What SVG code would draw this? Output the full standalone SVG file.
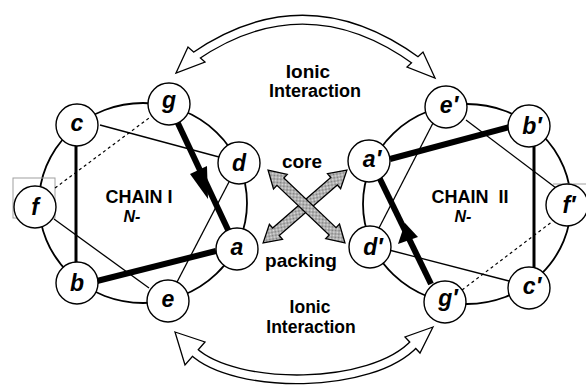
<svg xmlns="http://www.w3.org/2000/svg" width="586" height="387" viewBox="0 0 586 387">
  <defs>
    <pattern id="stipple" width="2" height="2" patternUnits="userSpaceOnUse">
      <rect width="2" height="2" fill="#e4e4e4"/>
      <rect width="1" height="1" fill="#7a7a7a"/>
      <rect x="1" y="1" width="1" height="1" fill="#7a7a7a"/>
    </pattern>
    <style>
      .ring { fill: none; stroke: #000; stroke-width: 1.8; }
      .node circle { fill: #fff; stroke: #000; stroke-width: 1.4; }
      .lbl { font-family: "Liberation Sans", Arial, "DejaVu Sans", sans-serif; font-weight: bold; font-style: italic; font-size: 23px; text-anchor: middle; fill: #000; }
      .thin { stroke: #000; stroke-width: 1.3; fill: none; }
      .thick { stroke: #000; stroke-width: 6; fill: none; }
      .mid { stroke: #000; stroke-width: 3; fill: none; }
      .dash { stroke: #000; stroke-width: 1.2; stroke-dasharray: 3 3; fill: none; }
      .head { fill: #000; stroke: none; }
      .title { font-family: "Liberation Sans", Arial, sans-serif; font-weight: bold; font-size: 18px; text-anchor: middle; fill: #000; }
      .nterm { font-family: "Liberation Sans", Arial, sans-serif; font-weight: bold; font-style: italic; font-size: 16px; text-anchor: middle; fill: #000; }
      .caption { font-family: "Liberation Sans", Arial, sans-serif; font-weight: bold; font-size: 19px; text-anchor: middle; fill: #000; }
      .arcOut { fill: none; stroke: #000; stroke-width: 10; }
      .arcIn { fill: none; stroke: #fff; stroke-width: 7.4; }
      .hollow { fill: #fff; stroke: #000; stroke-width: 1.3; stroke-linejoin: miter; }
      .fat { fill: url(#stipple); stroke: #000; stroke-width: 1.3; stroke-linejoin: miter; }
    </style>
  </defs>

  <rect width="586" height="387" fill="#fff"/>

  <!-- helix wheel rings -->
  <ellipse class="ring" cx="143" cy="203" rx="104" ry="100"/>
  <ellipse class="ring" cx="467" cy="204" rx="104" ry="100"/>

  <!-- faint frame marks around f and f' -->
  <rect x="13" y="178" width="42" height="40" fill="none" stroke="#a0a0a0" stroke-width="1"/>
  <line x1="553" y1="184" x2="586" y2="184" stroke="#a0a0a0" stroke-width="1"/>

  <g id="connectors">
    <!-- chain I -->
    <line class="thin" x1="100" y1="125" x2="219" y2="157"/>
    <line class="thin" x1="230" y1="180" x2="176" y2="284"/>
    <line class="thin" x1="54" y1="219" x2="149" y2="288"/>
    <line class="dash" x1="55" y1="188" x2="149" y2="118"/>
    <line class="mid" x1="76" y1="145" x2="76" y2="264"/>
    <line class="thick" x1="216" y1="251" x2="97" y2="281"/>
    <line class="thick" x1="175" y1="117" x2="229" y2="232"/>
    <polygon class="head" points="190,174 208,199 207,166"/>
    <!-- chain II -->
    <line class="thin" x1="433" y1="123" x2="379" y2="228"/>
    <line class="thin" x1="466" y1="120" x2="556" y2="188"/>
    <line class="thin" x1="389" y1="250" x2="509" y2="281"/>
    <line class="dash" x1="462" y1="290" x2="553" y2="221"/>
    <line class="mid" x1="534" y1="144" x2="534" y2="269"/>
    <line class="thick" x1="390" y1="159" x2="510" y2="127"/>
    <line class="thick" x1="431" y1="284" x2="379" y2="177"/>
    <polygon class="head" points="405,223 398,244 418,237"/>
  </g>

  <!-- ionic interaction arcs -->
  <g id="ionic-top">
    <path class="arcOut" d="M194,57 Q306,-20 418,62"/>
    <polygon class="hollow" points="176,73 188,47 205,62"/>
    <polygon class="hollow" points="435,78 423,52 407,67"/>
    <path class="arcIn" d="M194,57 Q306,-20 418,62"/>
  </g>
  <g id="ionic-bottom">
    <path class="arcOut" d="M193,351 C235,390 372,390 415,343"/>
    <polygon class="hollow" points="175,332 205,342 185,365"/>
    <polygon class="hollow" points="433,327 405,337 420,353"/>
    <path class="arcIn" d="M193,351 C235,390 372,390 415,343"/>
  </g>

  <!-- core packing cross -->
  <g id="core-packing">
    <polygon class="fat" transform="translate(305,206.5) rotate(-41)" points="-55.5,0 -38.5,-10 -38.5,-5 38.5,-5 38.5,-10 55.5,0 38.5,10 38.5,5 -38.5,5 -38.5,10"/>
    <polygon class="fat" transform="translate(306.5,206.5) rotate(43.5)" points="-53,0 -36,-10 -36,-5 36,-5 36,-10 53,0 36,10 36,5 -36,5 -36,10"/>
  </g>

  <!-- chain I nodes -->
  <g id="node-g" class="node"><circle cx="169" cy="104" r="21"/><text class="lbl" x="169" y="108">g</text></g>
  <g id="node-c" class="node"><circle cx="77" cy="125" r="21"/><text class="lbl" x="77" y="131">c</text></g>
  <g id="node-d" class="node"><circle cx="239" cy="163" r="21"/><text class="lbl" x="239" y="171">d</text></g>
  <g id="node-f" class="node"><circle cx="35" cy="207" r="21"/><text class="lbl" x="35" y="215">f</text></g>
  <g id="node-a" class="node"><circle cx="237" cy="249" r="21"/><text class="lbl" x="237" y="255">a</text></g>
  <g id="node-b" class="node"><circle cx="77" cy="283" r="21"/><text class="lbl" x="77" y="291">b</text></g>
  <g id="node-e" class="node"><circle cx="168" cy="301" r="21"/><text class="lbl" x="168" y="307">e</text></g>

  <!-- chain II nodes -->
  <g id="node-e2" class="node"><circle cx="446" cy="107" r="21"/><text class="lbl" x="449" y="113">e′</text></g>
  <g id="node-b2" class="node"><circle cx="529" cy="126" r="21"/><text class="lbl" x="532" y="134">b′</text></g>
  <g id="node-a2" class="node"><circle cx="369" cy="161" r="21"/><text class="lbl" x="372" y="167">a′</text></g>
  <g id="node-f2" class="node"><circle cx="567" cy="205" r="21"/><text class="lbl" x="569" y="213">f′</text></g>
  <g id="node-d2" class="node"><circle cx="370" cy="247" r="21"/><text class="lbl" x="373" y="255">d′</text></g>
  <g id="node-c2" class="node"><circle cx="529" cy="288" r="21"/><text class="lbl" x="532" y="294">c′</text></g>
  <g id="node-g2" class="node"><circle cx="445" cy="302" r="21"/><text class="lbl" x="448" y="306">g′</text></g>

  <!-- labels -->
  <text class="title" x="139" y="203">CHAIN I</text>
  <text class="nterm" x="132" y="222">N-</text>
  <text class="title" x="470" y="203" xml:space="preserve">CHAIN  II</text>
  <text class="nterm" x="463" y="222">N-</text>

  <text class="caption" x="308" y="78">Ionic</text>
  <text class="caption" x="315" y="97" style="font-size:18px">Interaction</text>
  <text class="caption" x="310" y="313" style="font-size:17.5px">Ionic</text>
  <text class="caption" x="311" y="333" style="font-size:17.5px">Interaction</text>
  <text class="caption" x="302" y="168">core</text>
  <text class="caption" x="301" y="267">packing</text>
</svg>
